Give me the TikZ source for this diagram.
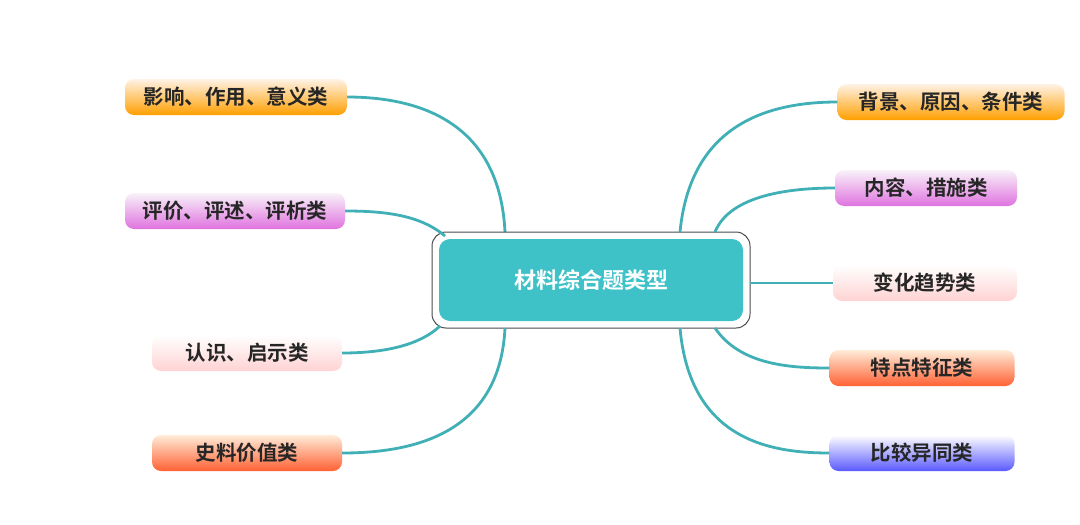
\documentclass[tikz,border=0pt]{standalone}
\usepackage{fontspec}
\newfontfamily\cjk{Noto Sans CJK SC}[BoldFont={Noto Sans CJK SC Bold}]
\definecolor{core}{RGB}{62,194,200}
\definecolor{line}{RGB}{64,176,182}
\begin{document}
\begin{tikzpicture}[x=1pt,y=-1pt,
 leaf/.style={rounded corners=9pt,minimum height=36pt,inner sep=0pt,font=\cjk\bfseries\fontsize{20.5}{20.5}\selectfont,text=black!85},
 conn/.style={draw=line,line width=2.8pt},
 orangeb/.style={top color=orange!10,bottom color=orange!75!yellow},
 purpleb/.style={top color=violet!5,bottom color=violet!45!magenta!55},
 pinkb/.style={top color=white,bottom color=pink!70},
 redb/.style={top color=orange!15,bottom color=red!55!orange!80},
 blueb/.style={top color=white,bottom color=blue!65}]
\useasboundingbox (0,0) rectangle (1080,525);
\draw[conn] (505,232) .. controls (500,130) and (430,97) .. (347,97);
\node[draw=black!70,line width=1pt,fill=white,rounded corners=14pt,minimum width=318pt,minimum height=96pt] (c) at (591,280) {};
\node[fill=core,rounded corners=11pt,minimum width=304pt,minimum height=82pt,text=white,font=\cjk\bfseries\fontsize{22}{22}\selectfont] (ci) at (591,280) {材料综合题类型};
\node[leaf,orangeb,minimum width=222pt] (a1) at (236,97) {影响、作用、意义类};
\node[leaf,purpleb,minimum width=220pt] (a2) at (235,211) {评价、评述、评析类};
\node[leaf,pinkb,minimum width=190pt] (a3) at (247,353) {认识、启示类};
\node[leaf,redb,minimum width=190pt] (a4) at (247,453) {史料价值类};
\node[leaf,orangeb,minimum width=227pt] (b1) at (951,102) {背景、原因、条件类};
\node[leaf,purpleb,minimum width=182pt] (b2) at (926,188) {内容、措施类};
\node[leaf,pinkb,minimum width=184pt] (b3) at (925,283) {变化趋势类};
\node[leaf,redb,minimum width=185pt] (b4) at (922,368) {特点特征类};
\node[leaf,blueb,minimum width=185pt] (b5) at (922,453) {比较异同类};
\coordinate (p1) at (505,232); \coordinate (p2) at (445,236);
\coordinate (p3) at (440,326); \coordinate (p4) at (505,328);
\coordinate (q1) at (680,232); \coordinate (q2) at (715,232);
\coordinate (q3) at (750,283); \coordinate (q4) at (715,328); \coordinate (q5) at (680,328);
\draw[conn] (p2) .. controls (420,215) and (385,211) .. (a2.east);
\draw[conn] (p3) .. controls (420,345) and (385,353) .. (a3.east);
\draw[conn] (p4) .. controls (500,430) and (420,453) .. (a4.east);
\draw[conn] (q1) .. controls (690,130) and (760,102) .. (b1.west);
\draw[conn] (q2) .. controls (730,195) and (790,188) .. (b2.west);
\draw[conn] (q3) -- (b3.west);
\draw[conn] (q4) .. controls (740,365) and (790,368) .. (b4.west);
\draw[conn] (q5) .. controls (690,440) and (770,453) .. (b5.west);
\end{tikzpicture}
\end{document}
